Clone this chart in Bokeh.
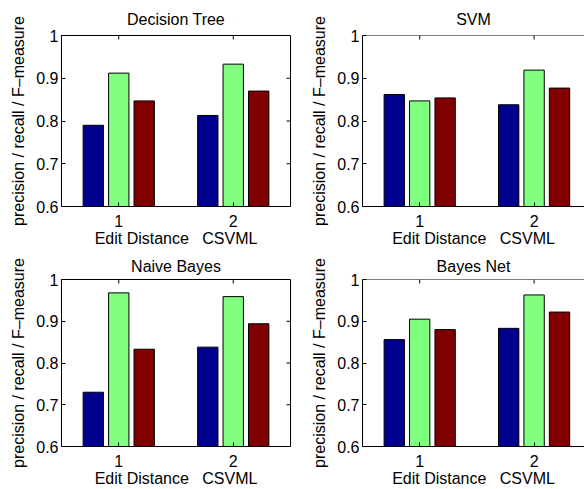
import math
from bokeh.plotting import figure
from bokeh.layouts import gridplot
from bokeh.models import FixedTicker, Range1d, Span
from bokeh.embed import file_html
from bokeh.resources import INLINE

# ---------------- data ----------------
panel_titles = ["Decision Tree", "SVM", "Naive Bayes", "Bayes Net"]
group_positions = [1, 2]
x_tick_labels = ["1", "2"]
x_axis_label = "Edit Distance\u00a0\u00a0\u00a0CSVML"
y_axis_label = "precision / recall / F\u2013measure"
y_ticks = [0.6, 0.7, 0.8, 0.9, 1.0]
y_tick_labels = ["0.6", "0.7", "0.8", "0.9", "1"]
series_names = ["precision", "recall", "fmeasure"]
series_colors = ["#00008F", "#80FF80", "#800000"]

decision_tree = {"precision": [0.790, 0.813], "recall": [0.912, 0.933], "fmeasure": [0.847, 0.870]}
svm = {"precision": [0.862, 0.838], "recall": [0.847, 0.919], "fmeasure": [0.854, 0.877]}
naive_bayes = {"precision": [0.730, 0.838], "recall": [0.968, 0.959], "fmeasure": [0.833, 0.894]}
bayes_net = {"precision": [0.856, 0.883], "recall": [0.905, 0.963], "fmeasure": [0.880, 0.922]}
panel_data = [decision_tree, svm, naive_bayes, bayes_net]

FONT = "Liberation Sans"
FS = "16px"

# MATLAB grouped-bar geometry
n_series = len(series_names)
group_width = min(0.8, n_series / (n_series + 1.5))
spacing = group_width / n_series
bar_width = spacing * 0.8


def style_axis(ax):
    ax.axis_line_color = "black"
    ax.axis_line_width = 1
    ax.major_tick_line_color = "black"
    ax.major_tick_in = 4
    ax.major_tick_out = 0
    ax.minor_tick_line_color = None
    ax.major_label_text_font = FONT
    ax.major_label_text_font_size = FS
    ax.major_label_text_color = "black"
    ax.axis_label_text_font = FONT
    ax.axis_label_text_font_size = FS
    ax.axis_label_text_font_style = "normal"
    ax.axis_label_text_color = "black"


def make_panel(idx):
    col = idx % 2
    row = idx // 2
    title = panel_titles[idx]
    data = panel_data[idx]
    if col == 0:
        width, b_left, b_right, x_end = 296, 61, 6, 2.5
    else:
        width, b_left, b_right, x_end = 288, 66, 0, 0.5 + 222 / 114.4
    if row == 0:
        height, b_top, b_bottom = 249, 35, 42
        t_valign, t_standoff = "bottom", 15
    else:
        height, b_top, b_bottom = 240, 30, 40
        t_valign, t_standoff = "top", 6

    p = figure(width=width, height=height,
               x_range=Range1d(0.5, x_end), y_range=Range1d(0.6, 1.0),
               output_backend="svg", toolbar_location=None,
               min_border_left=b_left, min_border_right=b_right,
               min_border_top=b_top, min_border_bottom=b_bottom,
               background_fill_color="white", border_fill_color="white")
    p.xgrid.visible = False
    p.ygrid.visible = False
    if col == 0:
        p.outline_line_color = "black"
        p.outline_line_width = 1
        p.outline_line_alpha = 1.0
    else:
        p.outline_line_color = None
        p.add_layout(Span(location=y_ticks[-1], dimension="width",
                          line_color="black", line_width=1))

    p.title.text = title
    p.title.align = "center"
    p.title.vertical_align = t_valign
    p.title.text_font = FONT
    p.title.text_font_size = FS
    p.title.text_font_style = "normal"
    p.title.text_color = "black"
    p.title.standoff = t_standoff

    for i, name in enumerate(series_names):
        off = (i - (n_series - 1) / 2) * spacing
        xs = [g + off for g in group_positions]
        p.vbar(x=xs, top=data[name], bottom=0, width=bar_width,
               fill_color=series_colors[i], line_color="black", line_width=1)

    # mirrored inward ticks (MATLAB box style)
    p.ray(x=group_positions, y=[y_ticks[-1]] * len(group_positions),
          length=4, length_units="screen", angle=-math.pi / 2,
          line_color="black", line_width=1)
    if col == 0:
        p.ray(x=[x_end] * len(y_ticks), y=y_ticks,
              length=4, length_units="screen", angle=math.pi,
              line_color="black", line_width=1)

    xa = p.xaxis[0]
    style_axis(xa)
    xa.ticker = FixedTicker(ticks=group_positions)
    xa.major_label_overrides = dict(zip(group_positions, x_tick_labels))
    xa.axis_label = x_axis_label
    xa.major_label_standoff = 8
    xa.axis_label_standoff = 0

    ya = p.yaxis[0]
    style_axis(ya)
    ya.ticker = FixedTicker(ticks=y_ticks)
    ya.major_label_overrides = dict(zip(y_ticks, y_tick_labels))
    ya.axis_label = y_axis_label
    ya.major_label_standoff = 3
    ya.axis_label_standoff = 6
    return p


panels = [make_panel(i) for i in range(4)]
grid = gridplot([[panels[0], panels[1]], [panels[2], panels[3]]], toolbar_location=None)

open("out.html", "w").write(file_html(grid, INLINE))
